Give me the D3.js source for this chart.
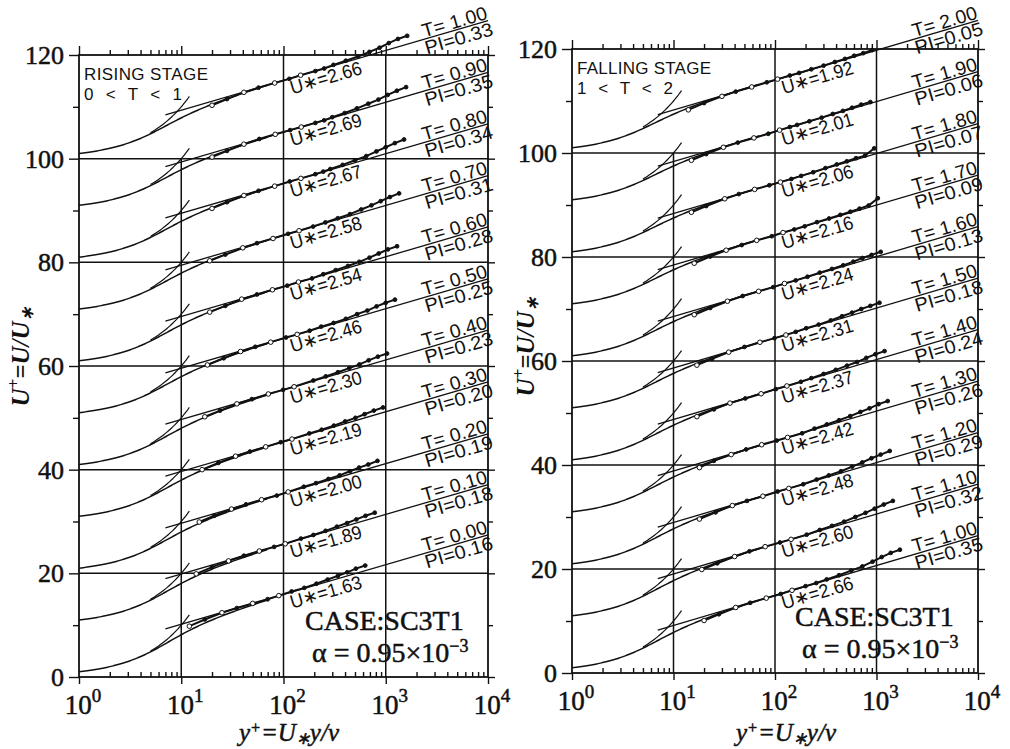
<!DOCTYPE html>
<html>
<head>
<meta charset="utf-8">
<script src="https://cdn.jsdelivr.net/npm/d3@7"></script>
<style>
  body { margin: 0; background: #fff; }
  text { fill: #111; }
  .heavy { stroke: #111; stroke-width: 0.5; }
</style>
</head>
<body>
<svg id="chart" width="1010" height="749"></svg>
<script>
// log law constant shared by all profiles
const KAPPA = 0.4;

// ---- rising stage (profiles listed bottom to top, each shifted by 10) ----
const risingT = ["0.00", "0.10", "0.20", "0.30", "0.40", "0.50", "0.60", "0.70", "0.80", "0.90", "1.00"];
const risingPI = ["0.16", "0.18", "0.19", "0.20", "0.23", "0.25", "0.28", "0.31", "0.34", "0.35", "0.33"];
const risingUstar = ["1.63", "1.89", "2.00", "2.19", "2.30", "2.46", "2.54", "2.58", "2.67", "2.69", "2.66"];
const risingB = [4.4, 4.1, 3.9, 3.9, 3.9, 3.8, 3.8, 3.7, 3.7, 3.6, 3.6];
const risingData = [
  [[12,9.8],[17,11.1],[25,12.4],[35,13.3],[50,14.2],[70,15.0],[90,15.7],[120,16.5],[160,17.2],[210,18.0],[270,18.8],[340,19.5],[420,20.2],[510,20.9],[630,21.5]],
  [[14,9.9],[20,11.2],[29,12.4],[41,13.4],[58,14.3],[81,15.1],[104,15.7],[148,16.7],[196,17.4],[258,18.2],[333,19.0],[419,19.7],[516,20.4],[634,21.1],[780,21.7]],
  [[15,9.9],[21,11.1],[31,12.4],[43,13.3],[61,14.2],[86,15.0],[111,15.7],[158,16.7],[208,17.4],[275,18.2],[354,18.9],[446,19.7],[549,20.4],[675,21.0],[830,21.7]],
  [[16,10.0],[23,11.3],[34,12.6],[47,13.5],[67,14.4],[94,15.3],[121,15.9],[179,17.0],[236,17.7],[311,18.5],[401,19.3],[505,20.0],[621,20.7],[764,21.4],[940,22.0]],
  [[17,10.2],[24,11.4],[35,12.7],[49,13.6],[71,14.6],[99,15.4],[127,16.0],[196,17.2],[259,18.0],[341,18.8],[440,19.6],[553,20.3],[681,21.1],[837,21.8],[1030,22.4]],
  [[18,10.2],[26,11.5],[38,12.8],[53,13.7],[75,14.6],[106,15.5],[136,16.1],[180,16.8],[234,17.6],[309,18.3],[407,19.1],[525,20.0],[661,20.7],[813,21.5],[1000,22.2],[1230,22.8]],
  [[19,10.4],[27,11.6],[39,12.9],[55,13.8],[78,14.7],[109,15.5],[140,16.2],[190,16.9],[245,17.7],[324,18.5],[427,19.3],[551,20.1],[693,20.9],[853,21.7],[1049,22.5],[1290,23.1]],
  [[19,10.3],[27,11.5],[40,12.8],[55,13.7],[79,14.6],[111,15.5],[142,16.1],[195,16.9],[257,17.7],[339,18.5],[447,19.3],[576,20.2],[725,21.0],[892,21.8],[1098,22.6],[1350,23.3]],
  [[20,10.4],[28,11.6],[41,12.9],[57,13.8],[82,14.7],[115,15.6],[148,16.2],[205,17.0],[245,17.5],[287,18.0],[379,18.8],[500,19.7],[645,20.5],[811,21.4],[998,22.2],[1228,23.0],[1510,23.7]],
  [[20,10.3],[28,11.5],[41,12.8],[58,13.8],[83,14.7],[116,15.5],[149,16.1],[205,16.9],[250,17.4],[300,18.0],[397,18.8],[523,19.7],[675,20.6],[848,21.4],[1044,22.3],[1285,23.1],[1580,23.8]],
  [[20,10.3],[28,11.5],[41,12.8],[57,13.7],[82,14.6],[114,15.4],[147,16.1],[205,16.9],[250,17.4],[308,18.1],[407,18.9],[536,19.7],[692,20.6],[870,21.4],[1071,22.3],[1317,23.1],[1620,23.7]]
];

// ---- falling stage (bottom to top) ----
const fallingT = ["1.00", "1.10", "1.20", "1.30", "1.40", "1.50", "1.60", "1.70", "1.80", "1.90", "2.00"];
const fallingPI = ["0.35", "0.32", "0.29", "0.26", "0.24", "0.18", "0.13", "0.09", "0.07", "0.06", "0.05"];
const fallingUstar = ["2.66", "2.60", "2.48", "2.42", "2.37", "2.31", "2.24", "2.16", "2.06", "2.01", "1.92"];
const fallingB = [3.4, 3.3, 3.2, 3.1, 3.0, 2.9, 2.8, 2.7, 2.6, 2.6, 2.5];
const fallingData = [
  [[20,10.1],[28,11.3],[41,12.6],[57,13.5],[82,14.4],[114,15.2],[147,15.9],[200,16.7],[255,17.3],[323,18.0],[427,18.8],[563,19.7],[726,20.5],[913,21.4],[1124,22.3],[1382,23.1],[1700,23.7]],
  [[19,9.9],[27,11.1],[40,12.4],[56,13.4],[80,14.3],[112,15.1],[144,15.7],[205,16.6],[276,17.5],[364,18.3],[480,19.1],[619,20.0],[779,20.8],[958,21.6],[1179,22.4],[1450,23.1]],
  [[18,9.6],[26,10.9],[38,12.2],[53,13.1],[76,14.0],[106,14.9],[137,15.5],[190,16.3],[257,17.2],[339,18.0],[447,18.8],[576,19.7],[725,20.5],[892,21.3],[1098,22.0],[1350,22.7]],
  [[18,9.5],[25,10.8],[37,12.0],[52,13.0],[74,13.9],[104,14.7],[133,15.3],[185,16.1],[245,17.0],[324,17.8],[427,18.6],[551,19.4],[693,20.2],[853,20.9],[1049,21.7],[1290,22.3]],
  [[17,9.3],[25,10.7],[36,11.9],[51,12.8],[73,13.7],[102,14.6],[131,15.2],[180,16.0],[228,16.7],[301,17.5],[397,18.3],[512,19.1],[644,19.8],[793,20.6],[976,21.3],[1200,21.9]],
  [[17,9.2],[24,10.4],[35,11.7],[50,12.7],[71,13.6],[99,14.4],[128,15.0],[160,15.6],[203,16.3],[269,17.0],[354,17.8],[457,18.6],[575,19.3],[707,20.0],[870,20.6],[1070,21.2]],
  [[16,8.9],[23,10.2],[34,11.5],[48,12.5],[69,13.4],[96,14.2],[124,14.9],[160,15.5],[209,16.2],[276,17.0],[364,17.7],[470,18.4],[591,19.1],[727,19.8],[894,20.4],[1100,21.0]],
  [[16,8.8],[23,10.1],[33,11.3],[47,12.3],[66,13.2],[93,14.0],[120,14.7],[155,15.3],[196,15.9],[259,16.7],[341,17.4],[440,18.1],[553,18.7],[681,19.3],[837,19.9],[1030,21.3]],
  [[15,8.6],[21,9.8],[32,11.2],[44,12.1],[63,13.0],[88,13.8],[113,14.4],[145,15.0],[181,15.6],[238,16.3],[314,17.1],[406,17.8],[510,18.4],[628,19.0],[772,19.5],[950,20.9]],
  [[15,8.6],[21,9.8],[31,11.1],[43,12.0],[62,12.9],[86,13.7],[111,14.4],[140,15.0],[165,15.4],[218,16.1],[288,16.8],[371,17.5],[467,18.1],[575,18.7],[707,19.3],[870,19.8]],
  [[14,8.3],[20,9.6],[30,10.9],[41,11.8],[59,12.7],[83,13.6],[106,14.2],[140,14.9],[173,15.4],[228,16.1],[301,16.8],[389,17.5],[489,18.1],[602,18.7],[740,19.2],[910,19.8]]
];

const profileShift = 10;
const yMajor = [0, 20, 40, 60, 80, 100, 120];
const yMinor = [10, 30, 50, 70, 90, 110];
const xDecades = [1, 10, 100, 1000, 10000];
const xExp = ["0", "1", "2", "3", "4"];
const caseLabel = "CASE:SC3T1";

const svg = d3.select("#chart");
const serif = "'Liberation Serif', 'Times New Roman', serif";
const sans = "'Liberation Sans', 'DejaVu Sans', sans-serif";
const ink = "#111";

// log law and Spalding wall law
const logLaw = (yp, B) => Math.log(yp) / KAPPA + B;
const spaldingY = (u, B) => {
  const k = KAPPA * u;
  return u + Math.exp(-KAPPA * B) * (Math.exp(k) - 1 - k - k * k / 2 - k * k * k / 6);
};

function drawPanel(cfg) {
  const x = d3.scaleLog().domain([1, 1e4]).range(cfg.xRange);
  const y = d3.scaleLinear().domain([0, 120]).range(cfg.yRange);
  const [x0, x1] = cfg.xRange;
  const [yb, yt] = cfg.yRange;
  const g = svg.append("g");

  const minors = [];
  [1, 10, 100, 1000].forEach(d => d3.range(2, 10).forEach(m => minors.push(d * m)));

  const tidy = sel => {
    sel.select(".domain").remove();
    sel.selectAll("line").attr("stroke", ink).attr("stroke-width", 1.4);
  };

  // bottom: minor ticks inside, decades sticking out below
  g.append("g").attr("transform", `translate(0,${yb})`)
    .call(d3.axisTop(x).tickValues(minors).tickSize(5).tickFormat("")).call(tidy);
  g.append("g").attr("transform", `translate(0,${yb})`)
    .call(d3.axisBottom(x).tickValues(xDecades).tickSize(7).tickFormat("")).call(tidy);
  // top: ticks pointing up
  g.append("g").attr("transform", `translate(0,${yt})`)
    .call(d3.axisTop(x).tickValues(minors).tickSize(5).tickFormat("")).call(tidy);
  g.append("g").attr("transform", `translate(0,${yt})`)
    .call(d3.axisTop(x).tickValues(xDecades).tickSize(9).tickFormat("")).call(tidy);
  // left / right ticks outward
  g.append("g").attr("transform", `translate(${x0},0)`)
    .call(d3.axisLeft(y).tickValues(yMinor).tickSize(6).tickFormat("")).call(tidy);
  g.append("g").attr("transform", `translate(${x0},0)`)
    .call(d3.axisLeft(y).tickValues(yMajor).tickSize(10).tickFormat("")).call(tidy);
  g.append("g").attr("transform", `translate(${x1},0)`)
    .call(d3.axisRight(y).tickValues(yMinor).tickSize(5).tickFormat("")).call(tidy);
  g.append("g").attr("transform", `translate(${x1},0)`)
    .call(d3.axisRight(y).tickValues(yMajor).tickSize(7).tickFormat("")).call(tidy);

  // grid
  const grid = g.append("g").attr("stroke", ink).attr("stroke-width", 1.5);
  grid.selectAll("line.h").data([20, 40, 60, 80, 100]).join("line")
    .attr("x1", x0).attr("x2", x1).attr("y1", d => y(d)).attr("y2", d => y(d));
  grid.append("line").attr("x1", x(10)).attr("x2", x(10)).attr("y1", y(0)).attr("y2", y(100));
  grid.selectAll("line.v").data([100, 1000]).join("line")
    .attr("x1", d => x(d)).attr("x2", d => x(d)).attr("y1", y(0)).attr("y2", y(120));
  g.append("rect").attr("x", x0).attr("y", yt).attr("width", x1 - x0).attr("height", yb - yt)
    .attr("fill", "none").attr("stroke", ink).attr("stroke-width", 1.8);

  // tick labels
  g.selectAll("text.ylab").data(yMajor).join("text").attr("class", "heavy")
    .attr("x", x0 - 15).attr("y", d => y(d) + 9)
    .attr("text-anchor", "end").attr("font-family", serif).attr("font-size", 26)
    .text(d => d);
  const xl = g.selectAll("text.xlab").data(xDecades).join("text").attr("class", "heavy")
    .attr("x", d => x(d) + 4).attr("y", yb + 37)
    .attr("text-anchor", "middle").attr("font-family", serif).attr("font-size", 27);
  xl.append("tspan").text("10");
  xl.append("tspan").attr("dy", -12).attr("font-size", 19).text((d, i) => xExp[i]);

  // axis titles
  const xt = g.append("text").attr("x", cfg.xTitleX).attr("y", 741).attr("class", "heavy")
    .attr("text-anchor", "middle").attr("font-family", serif).attr("font-size", 25).attr("font-style", "italic");
  xt.append("tspan").text("y");
  xt.append("tspan").attr("dy", -8).attr("font-size", 16).text("+");
  xt.append("tspan").attr("dy", 8).text("=U");
  xt.append("tspan").attr("dy", 3).attr("font-size", 17).text("∗");
  xt.append("tspan").attr("dy", -3).text("y/ν");

  const yTitle = g.append("text")
    .attr("transform", `translate(${cfg.yTitleX},${cfg.yTitleY}) rotate(-90)`)
    .attr("text-anchor", "middle").attr("font-family", serif).attr("font-size", 25)
    .attr("font-style", "italic").attr("font-weight", "bold");
  yTitle.append("tspan").text("U");
  yTitle.append("tspan").attr("dy", -10).attr("font-size", 17).text("+");
  yTitle.append("tspan").attr("dy", 10).text("=U/U");
  yTitle.append("tspan").attr("dy", 4).attr("font-size", 17).text("∗");

  // stage caption
  g.append("text").attr("x", x0 + 5).attr("y", yt + 25).attr("font-family", sans)
    .attr("font-size", 17).attr("textLength", cfg.stageLen).attr("lengthAdjust", "spacing").text(cfg.stage);
  g.append("text").attr("x", x0 + 5).attr("y", yt + 45).attr("font-family", sans)
    .attr("font-size", 17).attr("textLength", cfg.rangeLen).attr("lengthAdjust", "spacing").text(cfg.range);

  // case labels
  g.append("text").attr("x", cfg.caseX).attr("y", cfg.caseY).attr("font-family", serif).attr("class", "heavy")
    .attr("font-size", 28).text(caseLabel);
  const al = g.append("text").attr("x", cfg.caseX + 7).attr("y", cfg.caseY + 32).attr("class", "heavy")
    .attr("font-family", serif).attr("font-size", 28);
  al.append("tspan").text("α = 0.95×10");
  al.append("tspan").attr("dy", -10).attr("font-size", 18).text("−3");

  // slope of log law on screen
  const ang = Math.atan2(y(logLaw(1e4, 0)) - y(logLaw(1e3, 0)), x(1e4) - x(1e3)) * 180 / Math.PI;
  const line = d3.line().x(d => x(d[0])).y(d => y(d[1]));

  cfg.data.forEach((pts, i) => {
    const off = profileShift * i;
    const B = cfg.B[i];
    const pg = g.append("g");

    // Spalding wall curve
    const wall = d3.range(1, 15, 0.05).map(u => [spaldingY(u, B), u + off]).filter(d => d[0] <= 70);
    pg.append("path").attr("d", line(wall)).attr("fill", "none").attr("stroke", ink).attr("stroke-width", 1.5);
    // viscous sublayer u+ = y+
    const visc = d3.range(5, 12.01, 0.25).map(v => [v, v + off]);
    pg.append("path").attr("d", line(visc)).attr("fill", "none").attr("stroke", ink).attr("stroke-width", 1.2);
    // log law
    pg.append("path").attr("d", line([[7, logLaw(7, B) + off], [1e4, logLaw(1e4, B) + off]]))
      .attr("fill", "none").attr("stroke", ink).attr("stroke-width", 1.3);
    // measured profile
    pg.append("path").attr("d", line(pts.map(d => [d[0], d[1] + off])))
      .attr("fill", "none").attr("stroke", ink).attr("stroke-width", 2);
    pg.selectAll("circle").data(pts).join("circle")
      .attr("cx", d => x(d[0])).attr("cy", d => y(d[1] + off))
      .attr("r", (d, j) => (j < 7 && j % 2 === 0) ? 2.3 : 1.9)
      .attr("fill", (d, j) => (j < 7 && j % 2 === 0) ? "#fff" : ink)
      .attr("stroke", ink).attr("stroke-width", 1);

    // T / PI labels along the log line at the right edge
    const lab = pg.append("g")
      .attr("transform", `translate(${x(1e4) + 1},${y(logLaw(1e4, B) + off)}) rotate(${ang})`)
      .attr("font-family", sans).attr("font-size", 19).attr("text-anchor", "end");
    lab.append("text").attr("x", 0).attr("y", -2)
      .attr("textLength", 67).attr("lengthAdjust", "spacingAndGlyphs").text("T= " + cfg.T[i]);
    lab.append("text").attr("x", 1).attr("y", 15)
      .attr("textLength", 70).attr("lengthAdjust", "spacingAndGlyphs").text("PI=" + cfg.PI[i]);

    // U* label under the line past 10^2
    pg.append("g")
      .attr("transform", `translate(${x(110)},${y(logLaw(110, B) + off)}) rotate(${ang})`)
      .append("text").attr("x", 0).attr("y", 16)
      .attr("font-family", sans).attr("font-size", 19)
      .attr("textLength", 74).attr("lengthAdjust", "spacingAndGlyphs")
      .text("U∗=" + cfg.U[i]);
  });
}

drawPanel({
  xRange: [79, 488], yRange: [677, 55],
  data: risingData, B: risingB, T: risingT, PI: risingPI, U: risingUstar,
  stage: "RISING STAGE", stageLen: 124, range: "0 < T < 1", rangeLen: 98,
  caseX: 305, caseY: 630, xTitleX: 289, yTitleX: 29, yTitleY: 357
});
drawPanel({
  xRange: [572, 978], yRange: [673, 49],
  data: fallingData, B: fallingB, T: fallingT, PI: fallingPI, U: fallingUstar,
  stage: "FALLING STAGE", stageLen: 134, range: "1 < T < 2", rangeLen: 96,
  caseX: 795, caseY: 626, xTitleX: 786, yTitleX: 534, yTitleY: 347
});
</script>
</body>
</html>
